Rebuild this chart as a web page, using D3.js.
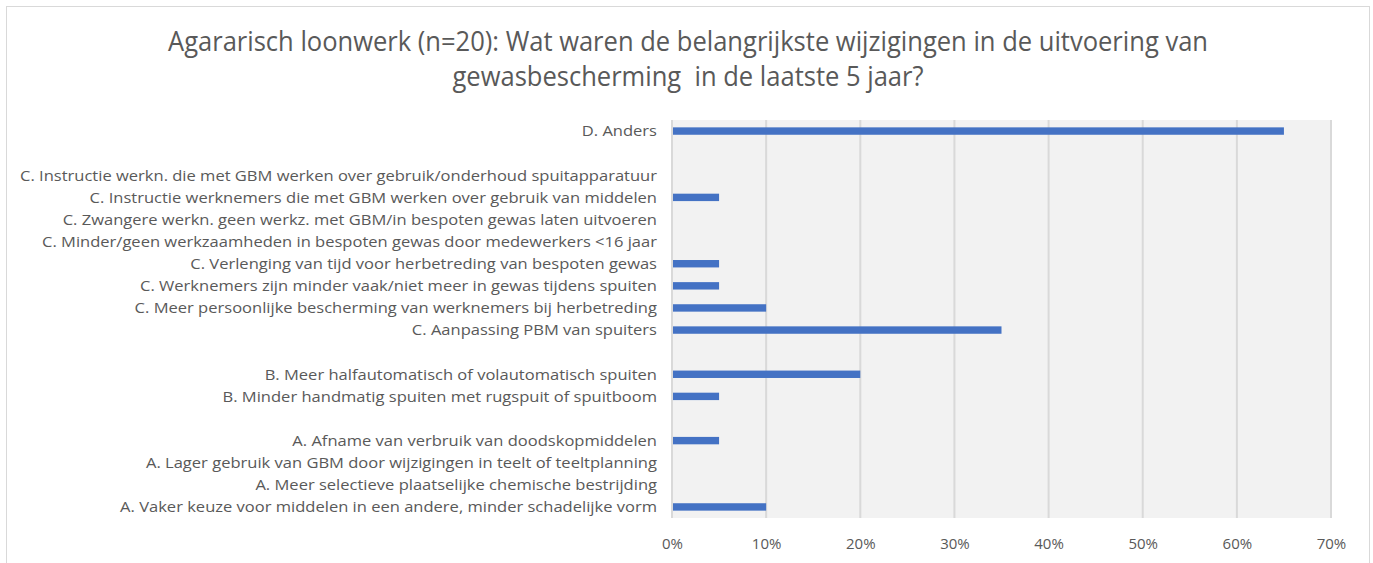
<!DOCTYPE html>
<html>
<head>
<meta charset="utf-8">
<script src="https://cdn.jsdelivr.net/npm/d3@7"></script>
<style>
  body { margin: 0; background: #fff; }
  text { font-family: "Open Sans", sans-serif; fill: #595959; }
</style>
</head>
<body>
<div id="chart"></div>
<script>
var title_lines = [
    'Agararisch loonwerk (n=20): Wat waren de belangrijkste wijzigingen in de uitvoering van',
    'gewasbescherming  in de laatste 5 jaar?'
]

// rows top to bottom, '' = empty spacer row
var categories = [
    'D. Anders',
    '',
    'C. Instructie werkn. die met GBM werken over gebruik/onderhoud spuitapparatuur',
    'C. Instructie werknemers die met GBM werken over gebruik van middelen',
    'C. Zwangere werkn. geen werkz. met GBM/in bespoten gewas laten uitvoeren',
    'C. Minder/geen werkzaamheden in bespoten gewas door medewerkers <16 jaar',
    'C. Verlenging van tijd voor herbetreding van bespoten gewas',
    'C. Werknemers zijn minder vaak/niet meer in gewas tijdens spuiten',
    'C. Meer persoonlijke bescherming van werknemers bij herbetreding',
    'C. Aanpassing PBM van spuiters',
    '',
    'B. Meer halfautomatisch of volautomatisch spuiten',
    'B. Minder handmatig spuiten met rugspuit of spuitboom',
    '',
    'A. Afname van verbruik van doodskopmiddelen',
    'A. Lager gebruik van GBM door wijzigingen in teelt of teeltplanning',
    'A. Meer selectieve plaatselijke chemische bestrijding',
    'A. Vaker keuze voor middelen in een andere, minder schadelijke vorm'
]

var values = [0.65, null, 0, 0.05, 0, 0, 0.05, 0.05, 0.10, 0.35, null, 0.20, 0.05, null, 0.05, 0, 0, 0.10]

var tick_values = [0, 0.1, 0.2, 0.3, 0.4, 0.5, 0.6, 0.7]

var width = 1373,
    height = 563,
    plot = {left: 672, right: 1331, top: 120, bottom: 518},
    colors = {bar: '#4472c4', bg: '#f2f2f2', grid: '#d9d9d9', border: '#d9d9d9'}

var svg = d3.select('#chart').append('svg')
    .attr('width', width)
    .attr('height', height)

// chart border
svg.append('rect')
    .attr('x', 6.5).attr('y', 6.5)
    .attr('width', 1363).attr('height', 600)
    .attr('fill', '#fff')
    .attr('stroke', colors.border)

var x = d3.scaleLinear()
    .domain([0, 0.7])
    .range([plot.left, plot.right])

var y = d3.scaleBand()
    .domain(d3.range(categories.length))
    .range([plot.top, plot.bottom])
    .paddingInner(0.665)
    .paddingOuter(0.3325)

// plot background
svg.append('rect')
    .attr('x', plot.left).attr('y', plot.top)
    .attr('width', plot.right - plot.left)
    .attr('height', plot.bottom - plot.top)
    .attr('fill', colors.bg)

// gridlines
svg.append('g').selectAll('line')
    .data(tick_values)
    .join('line')
    .attr('x1', d => x(d)).attr('x2', d => x(d))
    .attr('y1', plot.top).attr('y2', plot.bottom)
    .attr('stroke', colors.grid)
    .attr('stroke-width', 2)

// bars
svg.append('g').selectAll('rect')
    .data(values.map((v, i) => ({v: v, i: i})).filter(d => d.v))
    .join('rect')
    .attr('x', x(0) + 1)
    .attr('y', d => y(d.i))
    .attr('width', d => x(d.v) - x(0) - 1)
    .attr('height', y.bandwidth())
    .attr('fill', colors.bar)

// x axis labels
var xAxis = svg.append('g')
    .attr('transform', 'translate(0,' + (plot.bottom + 17) + ')')
    .call(d3.axisBottom(x).tickValues(tick_values).tickFormat(d3.format('.0%')).tickSize(0))
xAxis.select('.domain').remove()
xAxis.selectAll('text')
    .attr('font-size', 15)
    .style('font-family', '"Open Sans", sans-serif')
    .attr('fill', '#595959')

// fit a set of texts so the reference line gets the wanted width
function fit(sel, target) {
    var k = target / sel.nodes()[0].getComputedTextLength()
    sel.each(function() {
        var w = this.getComputedTextLength()
        d3.select(this).attr('textLength', w * k).attr('lengthAdjust', 'spacingAndGlyphs')
    })
}

// category labels
var labels = svg.append('g').selectAll('text')
    .data(categories.map((c, i) => ({c: c, i: i})).filter(d => d.c))
    .join('text')
    .attr('x', plot.left - 15)
    .attr('y', d => y(d.i) + y.bandwidth() / 2)
    .attr('dy', '0.36em')
    .attr('text-anchor', 'end')
    .attr('font-size', 15)
    .text(d => d.c)

var longest = labels.filter(d => d.i === 2)
var k = (plot.left - 15 - 20) / longest.node().getComputedTextLength()
labels.each(function() {
    var w = this.getComputedTextLength()
    d3.select(this).attr('textLength', w * k).attr('lengthAdjust', 'spacingAndGlyphs')
})

// title
var title = svg.append('g').selectAll('text')
    .data(title_lines)
    .join('text')
    .attr('x', 688)
    .attr('y', (d, i) => 51 + i * 35)
    .attr('text-anchor', 'middle')
    .attr('font-size', 28)
    .attr('xml:space', 'preserve')
    .text(d => d)

fit(title, 1040)
</script>
</body>
</html>
